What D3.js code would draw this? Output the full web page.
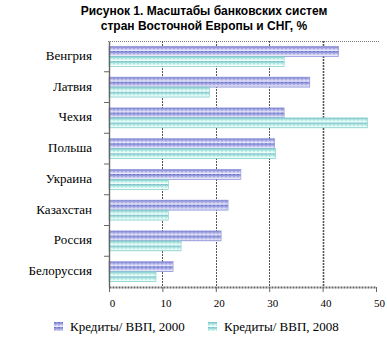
<!DOCTYPE html>
<html>
<head>
<meta charset="utf-8">
<script src="https://cdn.jsdelivr.net/npm/d3@7"></script>
<style>
	body { margin: 0; background: #fff; }
	svg { display: block; }
</style>
</head>
<body>
<svg id="chart"></svg>
<script>
// chart data
const countries = [ 'Венгрия', 'Латвия', 'Чехия', 'Польша', 'Украина', 'Казахстан', 'Россия', 'Белоруссия' ];
const credit2000 = [ 43, 37.6, 32.8, 31, 24.7, 22.3, 21, 12 ];
const credit2008 = [ 32.8, 18.8, 48.4, 31.2, 11.1, 11.1, 13.5, 8.8 ];
const seriesNames = [ 'Кредиты/ ВВП, 2000', 'Кредиты/ ВВП, 2008' ];
const xTicks = [ 0, 10, 20, 30, 40, 50 ];
const titleLines = [ 'Рисунок 1. Масштабы банковских систем', 'стран Восточной Европы и СНГ, %' ];

const serif = '"Liberation Serif", "DejaVu Serif", "Times New Roman", serif';
const sans = '"Liberation Sans", Arial, sans-serif';

const width = 387;
const height = 341;
const margin = { top: 41, right: 11, bottom: 54, left: 109 };
const innerWidth = width - margin.left - margin.right;
const innerHeight = height - margin.top - margin.bottom;

const svg = d3.select( '#chart' )
	.attr( 'width', width )
	.attr( 'height', height );

// striped fills, rough imitation of the old raster patterns
const defs = svg.append( 'defs' );

const p2000 = defs.append( 'pattern' )
	.attr( 'id', 'pat2000' )
	.attr( 'patternUnits', 'userSpaceOnUse' )
	.attr( 'width', 4 )
	.attr( 'height', 5 );
p2000.append( 'rect' ).attr( 'width', 4 ).attr( 'height', 5 ).attr( 'fill', '#c0c0ee' );
p2000.append( 'rect' ).attr( 'width', 4 ).attr( 'height', 1.5 ).attr( 'fill', '#6676cc' );
p2000.append( 'rect' ).attr( 'x', 2 ).attr( 'width', 2 ).attr( 'height', 1.5 ).attr( 'fill', '#9494d6' );
p2000.append( 'rect' ).attr( 'y', 2.5 ).attr( 'width', 2 ).attr( 'height', 1 ).attr( 'fill', '#8a8ad4' );
p2000.append( 'rect' ).attr( 'y', 3.5 ).attr( 'width', 4 ).attr( 'height', 1.5 ).attr( 'fill', '#e8e8fa' );

const p2008 = defs.append( 'pattern' )
	.attr( 'id', 'pat2008' )
	.attr( 'patternUnits', 'userSpaceOnUse' )
	.attr( 'width', 4 )
	.attr( 'height', 5 );
p2008.append( 'rect' ).attr( 'width', 4 ).attr( 'height', 5 ).attr( 'fill', '#ccf4ee' );
p2008.append( 'rect' ).attr( 'width', 4 ).attr( 'height', 1.5 ).attr( 'fill', '#6ccac2' );
p2008.append( 'rect' ).attr( 'x', 2 ).attr( 'width', 2 ).attr( 'height', 1.5 ).attr( 'fill', '#a4c4de' );
p2008.append( 'rect' ).attr( 'y', 2.5 ).attr( 'width', 2 ).attr( 'height', 1 ).attr( 'fill', '#86d8cc' );
p2008.append( 'rect' ).attr( 'y', 3.5 ).attr( 'width', 4 ).attr( 'height', 1.5 ).attr( 'fill', '#f2fffc' );

const fills = [ 'url(#pat2000)', 'url(#pat2008)' ];
const edges = [ '#8c92d6', '#7ccfc6' ];

// title
svg.append( 'g' )
	.selectAll( 'text' )
	.data( titleLines )
	.join( 'text' )
	.style( 'font-family', sans )
	.style( 'font-size', '12px' )
	.style( 'font-weight', 'bold' )
	.attr( 'x', 204 )
	.attr( 'y', ( d, i ) => 15 + i * 15 )
	.attr( 'text-anchor', 'middle' )
	.text( ( d ) => d );

const g = svg.append( 'g' )
	.attr( 'transform', `translate(${ margin.left },${ margin.top })` );

const x = d3.scaleLinear()
	.domain( [ 0, 50 ] )
	.range( [ 0, innerWidth ] );

const y = d3.scaleBand()
	.domain( countries )
	.range( [ 0, innerHeight ] )
	.padding( 0 );

const ySub = d3.scaleBand()
	.domain( [ 0, 1 ] )
	.range( [ 0, y.bandwidth() ] )
	.paddingInner( 0 )
	.paddingOuter( 0.54 );

// top border line
g.append( 'line' )
	.attr( 'x1', -1 )
	.attr( 'x2', innerWidth + 3 )
	.attr( 'y1', 0.5 )
	.attr( 'y2', 0.5 )
	.attr( 'stroke', '#777' )
	.attr( 'stroke-dasharray', '1,1' );

// vertical grid lines
g.append( 'g' )
	.selectAll( 'line' )
	.data( xTicks.slice( 1, -1 ) )
	.join( 'line' )
	.attr( 'x1', ( d ) => Math.round( x( d ) ) + 0.5 )
	.attr( 'x2', ( d ) => Math.round( x( d ) ) + 0.5 )
	.attr( 'y1', 0 )
	.attr( 'y2', innerHeight )
	.attr( 'stroke', '#555' )
	.attr( 'stroke-width', ( d ) => ( d === 40 ? 1.6 : 1 ) )
	.attr( 'stroke-dasharray', '2,1' );

// bars
const rows = countries.map( ( c, i ) => ( { country: c, values: [ credit2000[ i ], credit2008[ i ] ] } ) );

const rowG = g.append( 'g' )
	.selectAll( 'g' )
	.data( rows )
	.join( 'g' )
	.attr( 'transform', ( d ) => `translate(0,${ y( d.country ) })` );

rowG.selectAll( 'rect' )
	.data( ( d ) => d.values )
	.join( 'rect' )
	.attr( 'x', x( 0 ) )
	.attr( 'y', ( d, i ) => ySub( i ) )
	.attr( 'width', ( d ) => x( d ) - x( 0 ) )
	.attr( 'height', ySub.bandwidth() )
	.attr( 'fill', ( d, i ) => fills[ i ] )
	.attr( 'stroke', ( d, i ) => edges[ i ] )
	.attr( 'stroke-width', 0.6 );

// left axis
const yAxis = g.append( 'g' )
	.call( d3.axisLeft( y ).tickSize( 0 ).tickFormat( '' ) );
yAxis.select( '.domain' )
	.attr( 'stroke', '#666' )
	.attr( 'stroke-width', 1.4 );

g.append( 'g' )
	.selectAll( 'line' )
	.data( countries.slice( 1 ) )
	.join( 'line' )
	.attr( 'x1', -5 )
	.attr( 'x2', 0 )
	.attr( 'y1', ( d ) => y( d ) )
	.attr( 'y2', ( d ) => y( d ) )
	.attr( 'stroke', '#666' );

g.append( 'g' )
	.selectAll( 'text' )
	.data( countries )
	.join( 'text' )
	.style( 'font-family', serif )
	.style( 'font-size', '13px' )
	.attr( 'x', -17 )
	.attr( 'y', ( d ) => y( d ) + y.bandwidth() / 2 - 1 )
	.attr( 'dy', '0.35em' )
	.attr( 'text-anchor', 'end' )
	.text( ( d ) => d );

// bottom axis
const xAxis = g.append( 'g' )
	.attr( 'transform', `translate(0,${ innerHeight })` )
	.call( d3.axisBottom( x ).tickValues( xTicks ).tickSize( 5 ).tickSizeOuter( 0 ) );

xAxis.select( '.domain' )
	.attr( 'stroke', '#666' )
	.attr( 'stroke-width', 2 )
	.attr( 'stroke-dasharray', '2,1' );
xAxis.selectAll( '.tick line' ).attr( 'stroke', '#666' );
xAxis.selectAll( '.tick text' )
	.style( 'font-family', serif )
	.style( 'font-size', '11px' )
	.attr( 'fill', '#000' )
	.attr( 'dx', 3 )
	.attr( 'y', 12 );

// legend
const legend = svg.append( 'g' )
	.selectAll( 'g' )
	.data( seriesNames )
	.join( 'g' )
	.attr( 'transform', ( d, i ) => `translate(${ 54 + i * 154 },322)` );

legend.append( 'rect' )
	.attr( 'width', 9 )
	.attr( 'height', 9 )
	.attr( 'fill', ( d, i ) => fills[ i ] );

legend.append( 'text' )
	.style( 'font-family', serif )
	.style( 'font-size', '13px' )
	.attr( 'x', 16 )
	.attr( 'y', 9 )
	.text( ( d ) => d );
</script>
</body>
</html>
